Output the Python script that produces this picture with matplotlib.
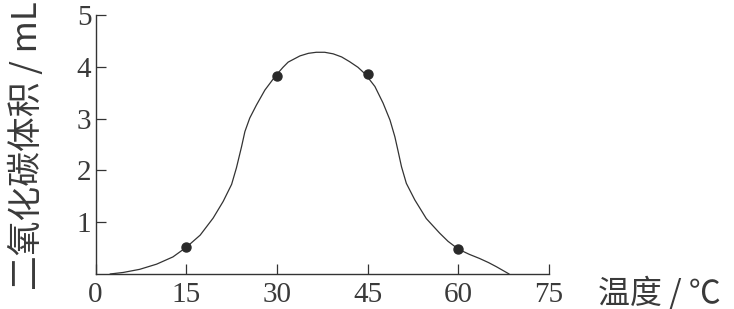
import matplotlib
matplotlib.use("Agg")
import matplotlib.pyplot as plt

# measured points (temperature, CO2 volume)
point_x = [15, 30, 45, 60]
point_y = [0.52, 3.83, 3.86, 0.48]

# curve
curve_x = [2.4, 4.6, 7.3, 10.1, 12.8, 15.0, 17.3, 19.45, 21.1, 22.5, 23.3, 24.15, 24.7, 25.5,
           26.6, 28.0, 29.8, 31.0, 31.85, 33.8, 35.2, 36.5, 37.9, 39.3, 40.7, 42.0, 43.4, 44.6,
           46.2, 47.55, 48.7, 49.5, 50.0, 50.6, 51.4, 52.8, 54.7, 56.9, 58.3, 60.0, 61.8, 63.5,
           65.0, 66.3, 68.4]
curve_y = [0.0, 0.03, 0.09, 0.19, 0.33, 0.515, 0.75, 1.08, 1.40, 1.73, 2.05, 2.46, 2.75, 3.01,
           3.26, 3.55, 3.83, 3.99, 4.09, 4.21, 4.26, 4.28, 4.28, 4.25, 4.19, 4.10, 3.99, 3.86,
           3.62, 3.30, 2.97, 2.65, 2.39, 2.07, 1.75, 1.43, 1.07, 0.79, 0.63, 0.48, 0.38, 0.30,
           0.22, 0.14, 0.0]

x_ticks = [0, 15, 30, 45, 60, 75]
y_ticks = [1, 2, 3, 4, 5]
x_label = "温度 / ℃"
y_label = "二氧化碳体积 / mL"

ink = "#333333"

fig = plt.figure(figsize=(7.34, 3.09), dpi=100)
ax = fig.add_axes([0.1302, 0.1133, 0.748 - 0.1302, 0.9515 - 0.1133])

ax.plot(curve_x, curve_y, color=ink, lw=0.9, solid_capstyle="round", solid_joinstyle="round")
ax.plot(point_x, point_y, "o", color="#2a2a2a", ms=6.5, zorder=3)

ax.set_xlim(0, 75)
ax.set_ylim(0, 5)
ax.set_xticks(x_ticks)
ax.set_yticks(y_ticks)
ax.spines["top"].set_visible(False)
ax.spines["right"].set_visible(False)
for s in ("left", "bottom"):
    ax.spines[s].set_color(ink)
    ax.spines[s].set_linewidth(1.0)

ax.tick_params(direction="in", length=7, width=0.9, color=ink, labelcolor="#3a3a3a",
               labelsize=21)
ax.tick_params(axis="x", pad=6)
ax.tick_params(axis="y", pad=3)
for lab in ax.get_xticklabels() + ax.get_yticklabels():
    lab.set_family("Liberation Serif")

cjk = ["Noto Sans CJK SC", "DejaVu Sans"]
fig.text(27 / 734, 1 - 146 / 309, y_label, rotation=90, ha="center", va="center",
         fontsize=25, color="#3a3a3a", family=cjk, fontweight="light")
fig.text(598 / 734, 1 - 293 / 309, x_label, ha="left", va="center",
         fontsize=23, color="#3a3a3a", family=cjk, fontweight="light")

fig.savefig("out.png", dpi=100)
